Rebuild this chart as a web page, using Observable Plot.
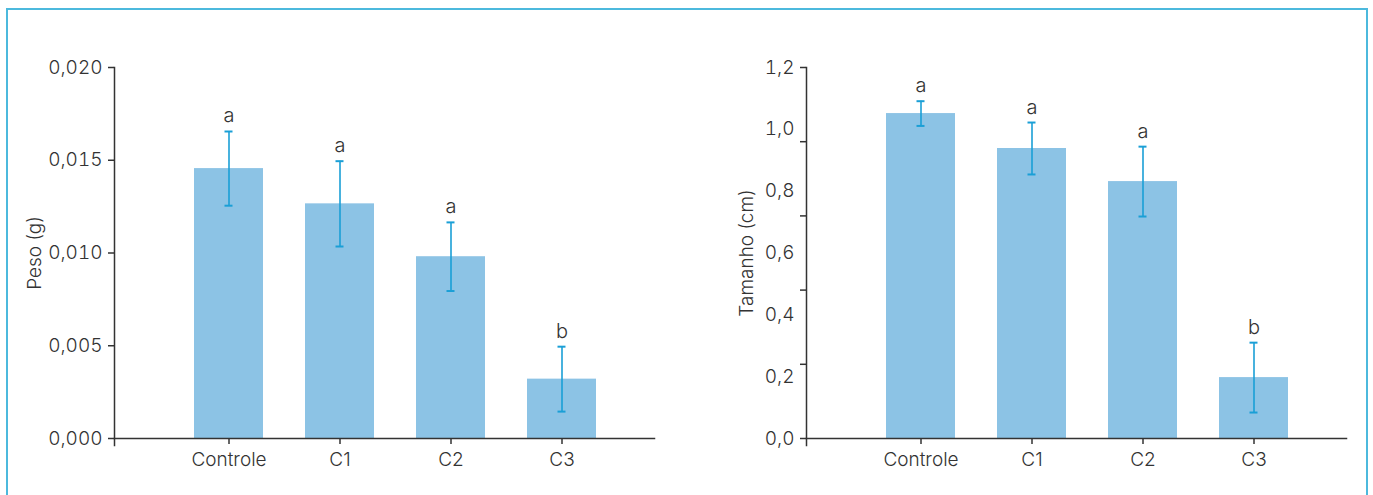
<!DOCTYPE html>
<html>
<head>
<meta charset="utf-8">
<script src="https://cdn.jsdelivr.net/npm/d3@7"></script>
<script src="https://cdn.jsdelivr.net/npm/@observablehq/plot@0.6"></script>
<style>
  html, body { margin: 0; padding: 0; background: #fff; width: 1373px; height: 495px; overflow: hidden; }
  #border { position: absolute; left: 6px; top: 8px; width: 1358px; height: 500px; border: 2px solid #4cb9dd; border-bottom: none; }
  #left { position: absolute; left: 0; top: 0; }
  #right { position: absolute; left: 690px; top: 0; }
  svg { font-family: Inter, Lato, sans-serif; font-weight: 300; }
</style>
</head>
<body>
<div id="border"></div>
<div id="left"></div>
<div id="right"></div>
<script>
// ---- data ----
const categories = ["Controle", "C1", "C2", "C3"];
const pesoMean = [0.01455, 0.01265, 0.0098, 0.0032];
const pesoErr = [0.0020, 0.0023, 0.00185, 0.00175];
const pesoLetters = ["a", "a", "a", "b"];
const pesoTicks = [0, 0.005, 0.010, 0.015, 0.020];

const tamanhoMean = [1.051, 0.938, 0.831, 0.197];
const tamanhoErr = [0.040, 0.084, 0.113, 0.113];
const tamanhoLetters = ["a", "a", "a", "b"];
const tamanhoTickMarks = [0, 0.24, 0.48, 0.72, 0.96, 1.2];
const tamanhoTickLabels = [0, 0.2, 0.4, 0.6, 0.8, 1.0, 1.2];

const barColor = "#8cc3e5";
const errColor = "#1a9fd6";
const inkColor = "#333333";

const fmt = (digits) => (d) => d.toFixed(digits).replace(".", ",");

function makeChart({means, errs, letters, yMax, tickMarks, tickLabels, digits, label, labelOffset, width, marginLeft, marginRight}) {
  const rows = categories.map((c, i) => ({cat: c, mean: means[i], lo: means[i] - errs[i], hi: means[i] + errs[i], letter: letters[i]}));
  return Plot.plot({
    width, height: 495,
    marginLeft, marginRight, marginTop: 67, marginBottom: 57,
    style: {fontSize: "19px", color: inkColor, fontFamily: "Inter, Lato, sans-serif"},
    x: {domain: categories, paddingInner: 0.375, paddingOuter: 0.6, align: 0.58, label: null},
    y: {domain: [0, yMax], label: null},
    marks: [
      Plot.barY(rows, {x: "cat", y: "mean", fill: barColor}),
      Plot.ruleX(rows, {x: "cat", y1: "lo", y2: "hi", stroke: errColor, strokeWidth: 1.6}),
      Plot.tickY(rows, {x: "cat", y: "lo", stroke: errColor, strokeWidth: 2, insetLeft: 30.5, insetRight: 30.5}),
      Plot.tickY(rows, {x: "cat", y: "hi", stroke: errColor, strokeWidth: 2, insetLeft: 30.5, insetRight: 30.5}),
      Plot.text(rows, {x: "cat", y: "hi", text: "letter", lineAnchor: "bottom", dy: -9, fontSize: 20, fill: inkColor}),
      Plot.axisX({tickSize: 6, tickPadding: 8, stroke: inkColor, strokeWidth: 1.5, fontSize: 19, label: null}),
      Plot.axisY({ticks: tickMarks, tickSize: 6, strokeWidth: 1.5, stroke: inkColor,
        tickFormat: tickLabels ? () => "" : fmt(digits), tickPadding: 6, fontSize: 19,
        label, labelAnchor: "center", labelArrow: "none", labelOffset}),
      ...(tickLabels ? [Plot.axisY({ticks: tickLabels, tickSize: 0, tickPadding: 12, tickFormat: fmt(digits), fontSize: 19, label: null})] : []),
      Plot.frame({anchor: "left", stroke: inkColor, strokeWidth: 1.5, insetBottom: -7}),
      Plot.frame({anchor: "bottom", stroke: inkColor, strokeWidth: 1.5})
    ]
  });
}

const left = makeChart({means: pesoMean, errs: pesoErr, letters: pesoLetters, yMax: 0.020,
  tickMarks: pesoTicks, tickLabels: null, digits: 3, label: "Peso (g)", labelOffset: 87,
  width: 690, marginLeft: 114, marginRight: 36});
document.getElementById("left").appendChild(left);

const right = makeChart({means: tamanhoMean, errs: tamanhoErr, letters: tamanhoLetters, yMax: 1.2,
  tickMarks: tamanhoTickMarks, tickLabels: tamanhoTickLabels, digits: 1, label: "Tamanho (cm)", labelOffset: 67,
  width: 683, marginLeft: 116, marginRight: 27});
document.getElementById("right").appendChild(right);
</script>
</body>
</html>
